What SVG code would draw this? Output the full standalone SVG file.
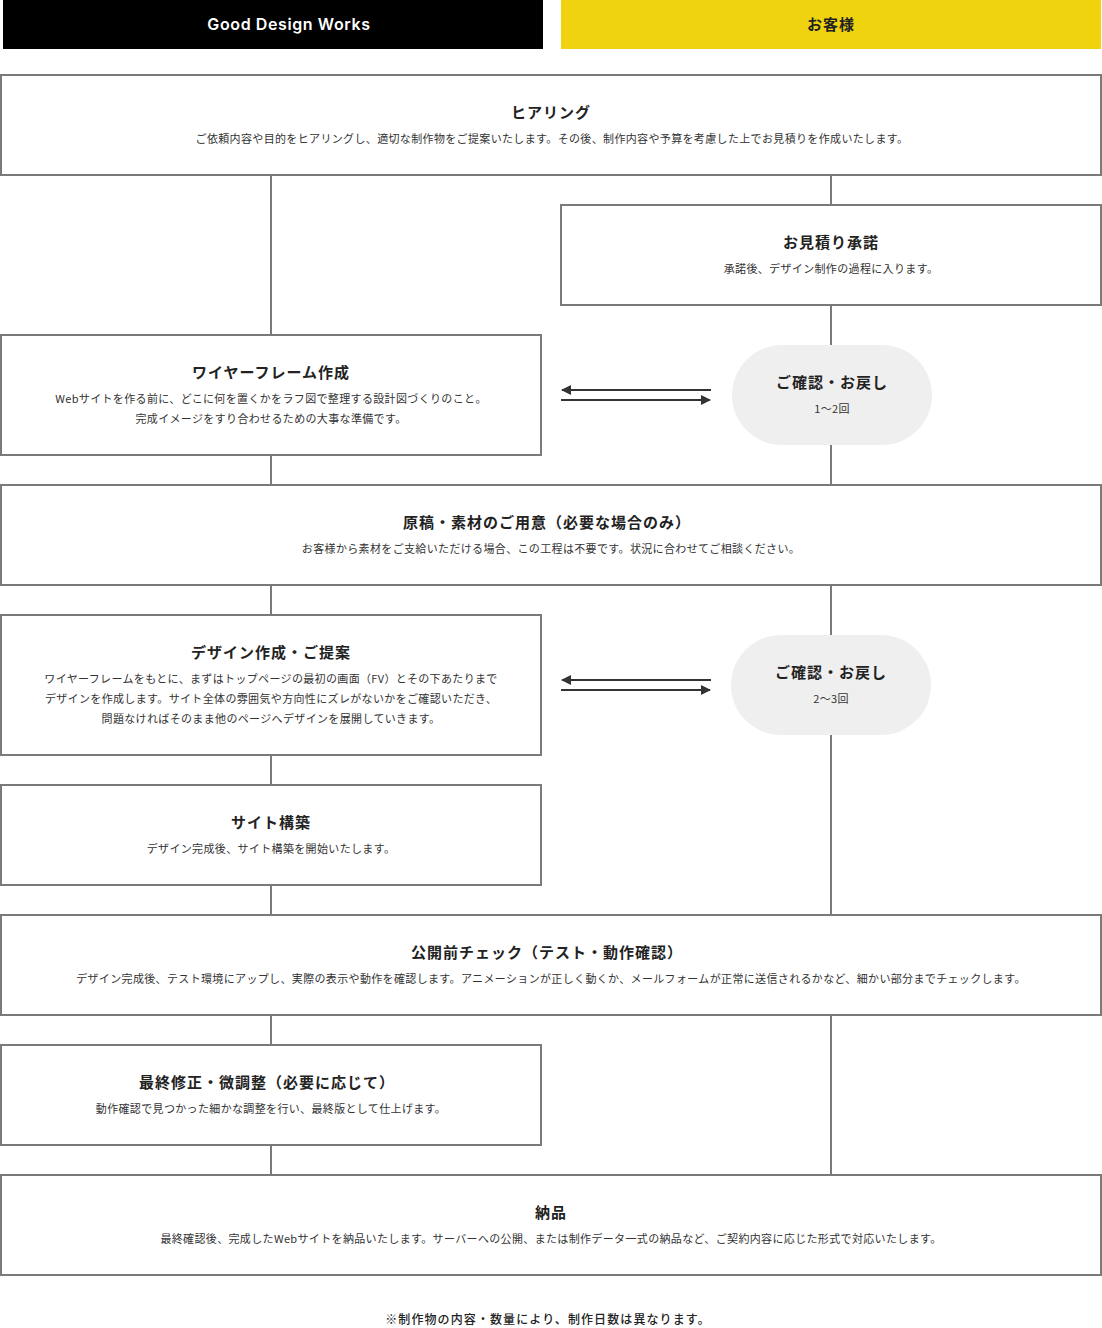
<svg xmlns="http://www.w3.org/2000/svg" width="1102" height="1328" viewBox="0 0 1102 1328">
<defs>
<style>
.box{fill:#fff;stroke:#7a7a7a;stroke-width:2}
.pill{fill:#efefef}
.conn{stroke:#7a7a7a;stroke-width:2;fill:none}
.arr{stroke:#333;stroke-width:2;fill:none}
.t{font-family:"Noto Sans CJK JP",sans-serif;font-size:15px;font-weight:700;fill:#222;text-anchor:middle;letter-spacing:1px}
.d{font-family:"Noto Sans CJK JP",sans-serif;font-size:11px;font-weight:400;fill:#333;text-anchor:middle;letter-spacing:0.35px}
</style>
<marker id="ah" viewBox="0 0 10 10" refX="9" refY="5" markerWidth="5" markerHeight="5" orient="auto-start-reverse" markerUnits="strokeWidth">
<path d="M0,0 L10,5 L0,10 z" fill="#333"/>
</marker>
</defs>
<rect width="1102" height="1328" fill="#fff"/>

<g id="header-gdw">
<rect x="3" y="0" width="540" height="49" fill="#000"/>
<text x="289" y="30" font-family="Inter, 'Liberation Sans', sans-serif" font-size="16" font-weight="600" fill="#fff" text-anchor="middle" letter-spacing="0.6">Good Design Works</text>
</g>
<g id="header-client">
<rect x="561" y="0" width="540" height="49" fill="#f0d30f"/>
<text x="831" y="30" font-family="'Noto Sans CJK JP', sans-serif" font-size="15" font-weight="700" fill="#222" text-anchor="middle" letter-spacing="1">お客様</text>
</g>

<g id="connectors">
<line class="conn" x1="271" y1="175" x2="271" y2="335"/>
<line class="conn" x1="831" y1="175" x2="831" y2="205"/>
<line class="conn" x1="831" y1="305" x2="831" y2="345"/>
<line class="conn" x1="831" y1="445" x2="831" y2="485"/>
<line class="conn" x1="271" y1="455" x2="271" y2="485"/>
<line class="conn" x1="271" y1="585" x2="271" y2="615"/>
<line class="conn" x1="831" y1="585" x2="831" y2="635"/>
<line class="conn" x1="831" y1="735" x2="831" y2="915"/>
<line class="conn" x1="271" y1="755" x2="271" y2="785"/>
<line class="conn" x1="271" y1="885" x2="271" y2="915"/>
<line class="conn" x1="271" y1="1015" x2="271" y2="1045"/>
<line class="conn" x1="831" y1="1015" x2="831" y2="1175"/>
<line class="conn" x1="271" y1="1145" x2="271" y2="1175"/>
<line class="arr" x1="711" y1="390" x2="562" y2="390" marker-end="url(#ah)"/>
<line class="arr" x1="561" y1="400" x2="710" y2="400" marker-end="url(#ah)"/>
<line class="arr" x1="711" y1="680" x2="562" y2="680" marker-end="url(#ah)"/>
<line class="arr" x1="561" y1="690" x2="710" y2="690" marker-end="url(#ah)"/>
</g>

<g id="node-hearing">
<rect class="box" x="1" y="75" width="1100" height="100"/>
<text class="t" x="551" y="118">ヒアリング</text>
<text class="d" x="552" y="143">ご依頼内容や目的をヒアリングし、適切な制作物をご提案いたします。その後、制作内容や予算を考慮した上でお見積りを作成いたします。</text>
</g>

<g id="node-estimate">
<rect class="box" x="561" y="205" width="540" height="100"/>
<text class="t" x="831" y="248">お見積り承諾</text>
<text class="d" x="831" y="273">承諾後、デザイン制作の過程に入ります。</text>
</g>

<g id="node-wireframe">
<rect class="box" x="1" y="335" width="540" height="120"/>
<text class="t" x="271" y="378">ワイヤーフレーム作成</text>
<text class="d" x="271" y="403">Webサイトを作る前に、どこに何を置くかをラフ図で整理する設計図づくりのこと。</text>
<text class="d" x="271" y="423">完成イメージをすり合わせるための大事な準備です。</text>
</g>

<g id="node-confirm1">
<rect class="pill" x="732" y="345" width="200" height="100" rx="50" ry="50"/>
<text class="t" x="832" y="388">ご確認・お戻し</text>
<text class="d" x="832" y="413">1〜2回</text>
</g>

<g id="node-materials">
<rect class="box" x="1" y="485" width="1100" height="100"/>
<text class="t" x="547" y="528">原稿・素材のご用意（必要な場合のみ）</text>
<text class="d" x="551" y="553">お客様から素材をご支給いただける場合、この工程は不要です。状況に合わせてご相談ください。</text>
</g>

<g id="node-design">
<rect class="box" x="1" y="615" width="540" height="140"/>
<text class="t" x="271" y="658">デザイン作成・ご提案</text>
<text class="d" x="271" y="683">ワイヤーフレームをもとに、まずはトップページの最初の画面（FV）とその下あたりまで</text>
<text class="d" x="271" y="703">デザインを作成します。サイト全体の雰囲気や方向性にズレがないかをご確認いただき、</text>
<text class="d" x="271" y="723">問題なければそのまま他のページへデザインを展開していきます。</text>
</g>

<g id="node-confirm2">
<rect class="pill" x="731" y="635" width="200" height="100" rx="50" ry="50"/>
<text class="t" x="831" y="678">ご確認・お戻し</text>
<text class="d" x="831" y="703">2〜3回</text>
</g>

<g id="node-build">
<rect class="box" x="1" y="785" width="540" height="100"/>
<text class="t" x="271" y="828">サイト構築</text>
<text class="d" x="271" y="853">デザイン完成後、サイト構築を開始いたします。</text>
</g>

<g id="node-check">
<rect class="box" x="1" y="915" width="1100" height="100"/>
<text class="t" x="547" y="958">公開前チェック（テスト・動作確認）</text>
<text class="d" x="551" y="983" letter-spacing="0.25">デザイン完成後、テスト環境にアップし、実際の表示や動作を確認します。アニメーションが正しく動くか、メールフォームが正常に送信されるかなど、細かい部分までチェックします。</text>
</g>

<g id="node-final">
<rect class="box" x="1" y="1045" width="540" height="100"/>
<text class="t" x="267" y="1088">最終修正・微調整（必要に応じて）</text>
<text class="d" x="271" y="1113">動作確認で見つかった細かな調整を行い、最終版として仕上げます。</text>
</g>

<g id="node-delivery">
<rect class="box" x="1" y="1175" width="1100" height="100"/>
<text class="t" x="551" y="1218">納品</text>
<text class="d" x="551" y="1243">最終確認後、完成したWebサイトを納品いたします。サーバーへの公開、または制作データ一式の納品など、ご契約内容に応じた形式で対応いたします。</text>
</g>

<text x="548" y="1324" font-family="'Noto Sans CJK JP', sans-serif" font-size="12" font-weight="500" fill="#222" text-anchor="middle" letter-spacing="1.1">※制作物の内容・数量により、制作日数は異なります。</text>
</svg>
